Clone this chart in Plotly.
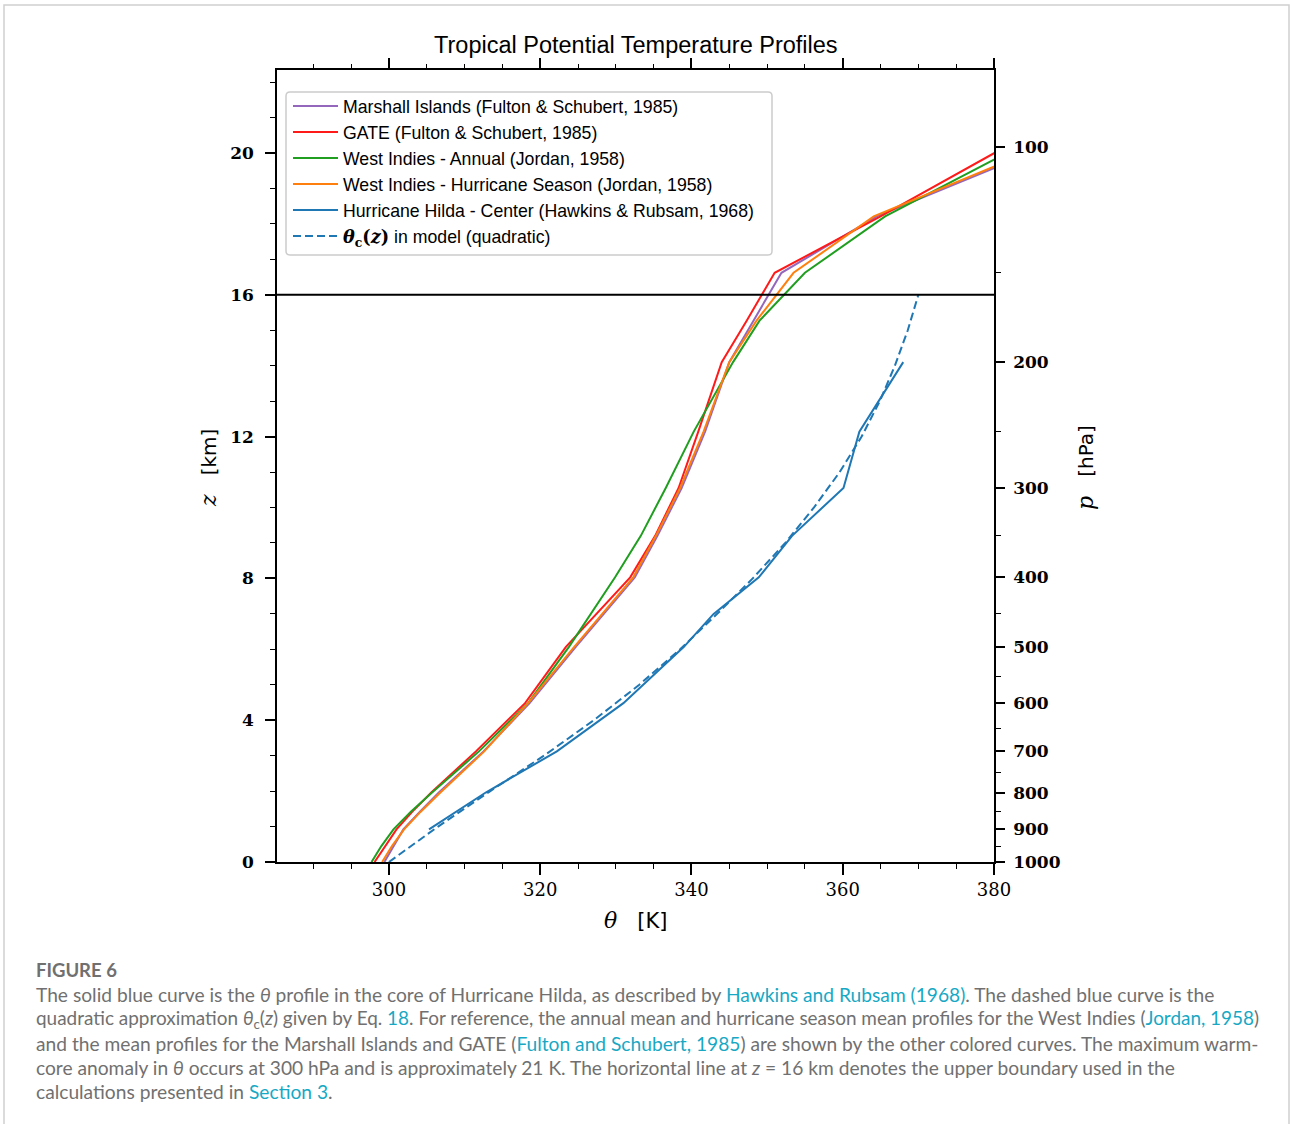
import math
import plotly.graph_objects as go

# ---------------- data ----------------
z_env = [0, 0.45, 0.92, 1.42, 1.96, 3.12, 4.48, 6.07, 8.03, 9.2, 10.55, 12.14, 14.1, 15.27, 16.62, 18.21, 20.17]
theta_marshall = [299.4, 300.6, 301.9, 304.1, 306.6, 312.5, 318.6, 324.7, 332.5, 335.5, 338.7, 341.8, 345.0, 348.2, 351.9, 364.5, 386.8]
theta_gate = [298.1, 299.5, 301.0, 303.1, 305.6, 311.5, 318.0, 323.4, 331.9, 335.2, 338.3, 340.9, 344.0, 347.3, 351.0, 365.0, 381.5]
theta_wi_annual = [297.7, 299.0, 300.6, 302.9, 305.7, 311.9, 318.4, 323.8, 329.9, 333.3, 336.6, 340.3, 345.5, 349.0, 355.0, 365.6, 383.2]
theta_wi_hurricane = [299.1, 300.4, 302.0, 304.2, 306.8, 312.6, 318.4, 324.5, 332.3, 335.3, 338.5, 341.6, 345.0, 348.6, 353.5, 364.1, 386.3]

z_hilda = [0.92, 1.96, 3.12, 4.48, 6.07, 6.99, 8.03, 9.2, 10.55, 12.14, 14.1]
theta_hilda = [305.3, 312.8, 322.2, 331.0, 339.0, 342.9, 348.9, 353.3, 360.1, 362.2, 368.0]

z_model = [0, 1, 2, 3, 4, 5, 6, 7, 8, 9, 10, 11, 12, 13, 14, 15, 16]
theta_model = [300.0, 306.5, 313.4, 320.5, 327.1, 333.1, 338.5, 343.4, 348.1, 352.4, 356.2, 359.6, 362.5, 364.9, 366.9, 368.6, 370.0]

series_names = [
    "Marshall Islands (Fulton & Schubert, 1985)",
    "GATE (Fulton & Schubert, 1985)",
    "West Indies - Annual (Jordan, 1958)",
    "West Indies - Hurricane Season (Jordan, 1958)",
    "Hurricane Hilda - Center (Hawkins & Rubsam, 1968)",
]
model_name = ('<span style="font-family:DejaVu Serif"><b><i>θ</i><sub>c</sub>(<i>z</i>)</b></span>'
              ' in model (quadratic)')

theta_ticks = [300, 320, 340, 360, 380]
theta_minor = [290, 295, 305, 310, 315, 325, 330, 335, 345, 350, 355, 365, 370, 375]
z_ticks = [0, 4, 8, 12, 16, 20]
p_ticks = [100, 200, 300, 400, 500, 600, 700, 800, 900, 1000]
p_minor = [150, 250, 350, 450, 550, 650, 750, 850, 950]
z_boundary = 16

theta_range = [285.2, 380]
z_range = [0, 22.34]
p_bottom, p_top = 1000, 78.1   # pressure at bottom / top of the plot frame (hPa)

# ---------------- layout helpers ----------------
W, H = 1290, 1124
L, R, T, B = 277, 994, 70, 862


def px_x(px):
    return (px - L) / (R - L)


def px_y(py):
    return (B - py) / (B - T)


colors = ["#9467bd", "#ff1a1a", "#1f9e1f", "#ff7f0e", "#1f77b4"]

fig = go.Figure()
env = [theta_marshall, theta_gate, theta_wi_annual, theta_wi_hurricane]
for name, th, c in zip(series_names[:4], env, colors[:4]):
    fig.add_trace(go.Scatter(x=th, y=z_env, mode="lines", name=name,
                             line=dict(color=c, width=2)))
fig.add_trace(go.Scatter(x=theta_hilda, y=z_hilda, mode="lines", name=series_names[4],
                         line=dict(color=colors[4], width=2)))
fig.add_trace(go.Scatter(x=theta_model, y=z_model, mode="lines", name=model_name,
                         line=dict(color=colors[4], width=2, dash="8px,4px")))
# carriers for the top tick axes and the right (pressure) axis
for xa, ya in (("x", "y2"), ("x2", "y"), ("x3", "y")):
    fig.add_trace(go.Scatter(x=[None], y=[None], xaxis=xa, yaxis=ya, showlegend=False,
                             hoverinfo="skip"))

serif_bold = dict(family="DejaVu Serif", size=17, color="black", weight="bold")
axis_common = dict(showgrid=False, zeroline=False, showline=True, linecolor="black",
                   linewidth=1.5, ticks="outside", tickcolor="black", tickwidth=1.5)
minor_common = dict(ticks="outside", tickcolor="black", tickwidth=1.2, ticklen=5, showgrid=False)
top_common = dict(showgrid=False, zeroline=False, showline=False, ticks="outside",
                  tickcolor="black", overlaying="x", side="top", anchor="y",
                  range=theta_range, autorange=False, showticklabels=False, tickmode="array")

fig.update_layout(
    width=W, height=H, autosize=False,
    margin=dict(l=L, r=W - R, t=T, b=H - B, pad=0),
    paper_bgcolor="white", plot_bgcolor="white",
    showlegend=True,
    xaxis=dict(**axis_common, range=theta_range, autorange=False, mirror=True,
               tickmode="array", tickvals=theta_ticks, ticklen=11,
               minor=dict(**minor_common, tickvals=theta_minor),
               tickfont=dict(family="DejaVu Serif", size=18, color="black")),
    xaxis2=dict(**top_common, tickvals=theta_ticks, ticklen=11, tickwidth=1.5),
    xaxis3=dict(**top_common, tickvals=theta_minor, ticklen=5, tickwidth=1.2),
    yaxis=dict(**axis_common, range=z_range, autorange=False, tickmode="array",
               tickvals=z_ticks, ticklen=10,
               minor=dict(**minor_common, dtick=1, tick0=0),
               tickfont=serif_bold, ticklabelstandoff=8),
    yaxis2=dict(**axis_common, type="log", overlaying="y", side="right", anchor="x",
                range=[math.log10(p_bottom), math.log10(p_top)], autorange=False,
                tickmode="array", tickvals=p_ticks, ticktext=[str(p) for p in p_ticks],
                ticklen=9,
                minor=dict(**minor_common, tickvals=p_minor),
                tickfont=serif_bold, ticklabelstandoff=5),
    legend=dict(x=px_x(288), y=px_y(88), xanchor="left", yanchor="top",
                bgcolor="rgba(0,0,0,0)", borderwidth=0,
                font=dict(family="Liberation Sans", size=17.7, color="black"),
                itemwidth=45, tracegroupgap=0),
)

# legend frame (rounded)
x0, x1, y0, y1 = px_x(286), px_x(772), px_y(92), px_y(255)
rx, ry = 4 / (R - L), 4 / (B - T)
legend_path = (f"M{x0+rx},{y0} L{x1-rx},{y0} Q{x1},{y0} {x1},{y0-ry} L{x1},{y1+ry} "
               f"Q{x1},{y1} {x1-rx},{y1} L{x0+rx},{y1} Q{x0},{y1} {x0},{y1+ry} "
               f"L{x0},{y0-ry} Q{x0},{y0} {x0+rx},{y0} Z")
fig.add_shape(type="path", path=legend_path, xref="paper", yref="paper",
              line=dict(color="#cccccc", width=1.5), fillcolor="white", layer="above")

# horizontal upper boundary line
fig.add_shape(type="line", xref="paper", x0=0, x1=1, yref="y", y0=z_boundary, y1=z_boundary,
              line=dict(color="black", width=2), layer="above")

# outer page border
fig.add_shape(type="rect", xref="paper", yref="paper", x0=px_x(4), x1=px_x(1289),
              y0=px_y(1140), y1=px_y(5), line=dict(color="#d0d0d0", width=1.5), layer="below")

# title
fig.add_annotation(text="Tropical Potential Temperature Profiles", xref="paper", yref="paper",
                   x=px_x(635.5), y=px_y(45), showarrow=False, xanchor="center", yanchor="middle",
                   font=dict(family="Liberation Sans", size=23.5, color="black"))

serif_span = '<span style="font-family:DejaVu Serif;font-size:22px"><i>{}</i></span>'
fig.add_annotation(text=serif_span.format("θ") + "   [K]", xref="paper", yref="paper",
                   x=px_x(635), y=px_y(921), showarrow=False, xanchor="center", yanchor="middle",
                   font=dict(family="DejaVu Sans", size=21, color="black"))
fig.add_annotation(text=serif_span.format("z") + "   [km]", xref="paper", yref="paper",
                   x=px_x(208), y=px_y(468), showarrow=False, textangle=-90,
                   xanchor="center", yanchor="middle",
                   font=dict(family="DejaVu Sans", size=20, color="black"))
fig.add_annotation(text=serif_span.format("p") + "   [hPa]", xref="paper", yref="paper",
                   x=px_x(1085), y=px_y(468), showarrow=False, textangle=-90,
                   xanchor="center", yanchor="middle",
                   font=dict(family="DejaVu Sans", size=20, color="black"))

# caption
gray = "#707070"
teal = "#17a8c4"


def link(s):
    return f'<span style="color:{teal}">{s}</span>'


caption_lines = [
    "The solid blue curve is the <i>θ</i> profile in the core of Hurricane Hilda, as described by "
    + link("Hawkins and Rubsam (1968)") + ". The dashed blue curve is the",
    "quadratic approximation <i>θ</i><sub>c</sub>(<i>z</i>) given by Eq. " + link("18")
    + ". For reference, the annual mean and hurricane season mean profiles for the West Indies ("
    + link("Jordan, 1958") + ")",
    "and the mean profiles for the Marshall Islands and GATE (" + link("Fulton and Schubert, 1985")
    + ") are shown by the other colored curves. The maximum warm-",
    "core anomaly in <i>θ</i> occurs at 300 hPa and is approximately 21 K. The horizontal line at "
    "<i>z</i> = 16 km denotes the upper boundary used in the",
    "calculations presented in " + link("Section 3") + ".",
]
caption_sizes = [19.2, 18.95, 19.2, 19.2, 19.2]
fig.add_annotation(text="FIGURE 6", xref="paper", yref="paper", x=px_x(34), y=px_y(970),
                   showarrow=False, xanchor="left", yanchor="middle",
                   font=dict(family="Lato", size=18.5, color=gray, weight="bold"))
for i, (line, fs) in enumerate(zip(caption_lines, caption_sizes)):
    fig.add_annotation(text=line, xref="paper", yref="paper", x=px_x(34), y=px_y(995 + 24 * i),
                       showarrow=False, xanchor="left", yanchor="middle", align="left",
                       font=dict(family="Lato", size=fs, color=gray))

fig.write_html("out.html")
